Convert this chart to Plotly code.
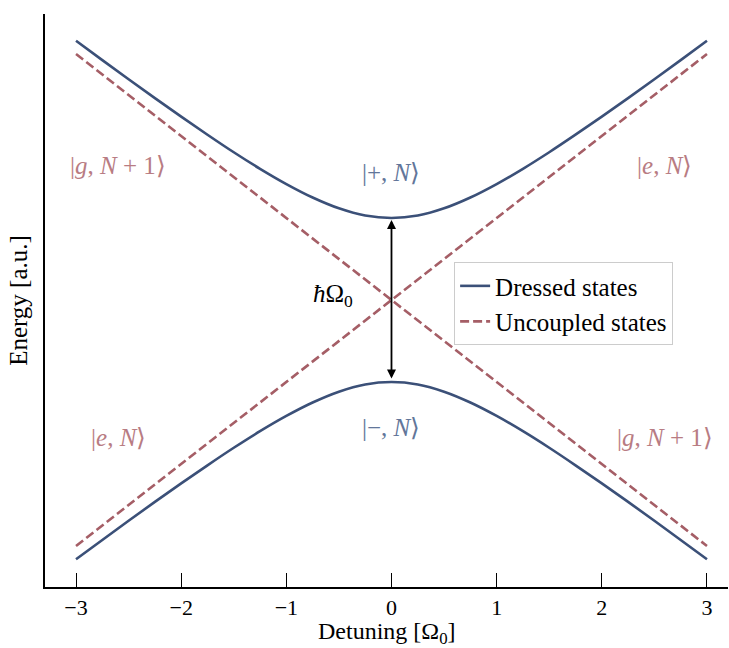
import plotly.graph_objects as go

# Data
detuning = [-3.0, -2.75, -2.5, -2.25, -2.0, -1.75, -1.5, -1.25, -1.0, -0.75, -0.5, -0.25, 0.0,
            0.25, 0.5, 0.75, 1.0, 1.25, 1.5, 1.75, 2.0, 2.25, 2.5, 2.75, 3.0]
dressed_plus = [1.581, 1.463, 1.346, 1.231, 1.118, 1.008, 0.901, 0.800, 0.707, 0.625, 0.559, 0.515, 0.500,
                0.515, 0.559, 0.625, 0.707, 0.800, 0.901, 1.008, 1.118, 1.231, 1.346, 1.463, 1.581]
dressed_minus = [-1.581, -1.463, -1.346, -1.231, -1.118, -1.008, -0.901, -0.800, -0.707, -0.625, -0.559, -0.515, -0.500,
                 -0.515, -0.559, -0.625, -0.707, -0.800, -0.901, -1.008, -1.118, -1.231, -1.346, -1.463, -1.581]
uncoupled_x = [-3.0, 3.0]
uncoupled_e = [-1.5, 1.5]
uncoupled_g = [1.5, -1.5]
x_ticks = [-3, -2, -1, 0, 1, 2, 3]
x_tick_labels = ["−3", "−2", "−1", "0", "1", "2", "3"]

BLUE = "#3b5078"
RED = "#a55e66"
BLUE_T = "#62769a"
RED_T = "#b87c83"
FONT = "Liberation Serif"
FS = 25

fig = go.Figure()
fig.add_trace(go.Scatter(x=detuning, y=dressed_plus, mode="lines", name="Dressed states",
                         line=dict(color=BLUE, width=2.6, shape="spline"), legendgroup="d"))
fig.add_trace(go.Scatter(x=detuning, y=dressed_minus, mode="lines", name="Dressed states",
                         line=dict(color=BLUE, width=2.6, shape="spline"), legendgroup="d", showlegend=False))
fig.add_trace(go.Scatter(x=uncoupled_x, y=uncoupled_e, mode="lines", name="Uncoupled states",
                         line=dict(color=RED, width=2.6, dash="9px,4px"), legendgroup="u"))
fig.add_trace(go.Scatter(x=uncoupled_x, y=uncoupled_g, mode="lines", name="Uncoupled states",
                         line=dict(color=RED, width=2.6, dash="9px,4px"), legendgroup="u", showlegend=False))

labels = [
    (-2.6, 0.82, "|<i>g</i>, <i>N</i> + 1⟩", RED_T),
    (2.6, 0.82, "|<i>e</i>, <i>N</i>⟩", RED_T),
    (0.0, 0.78, "|+, <i>N</i>⟩", BLUE_T),
    (0.0, -0.78, "|−, <i>N</i>⟩", BLUE_T),
    (-2.6, -0.84, "|<i>e</i>, <i>N</i>⟩", RED_T),
    (2.6, -0.84, "|<i>g</i>, <i>N</i> + 1⟩", RED_T),
]
for lx, ly, txt, col in labels:
    fig.add_annotation(x=lx, y=ly, text=txt, showarrow=False,
                       font=dict(family=FONT, size=FS, color=col))

fig.add_annotation(x=-0.56, y=0.03, text="<i>ħ</i>Ω<sub>0</sub>", showarrow=False,
                   font=dict(family=FONT, size=FS, color="black"))
fig.add_annotation(x=0, y=0.5, ax=0, ay=-0.5, xref="x", yref="y", axref="x", ayref="y",
                   text="", showarrow=True, arrowhead=2, startarrowhead=2, arrowside="end+start",
                   arrowwidth=1.8, arrowsize=1, startarrowsize=1, arrowcolor="black",
                   standoff=2, startstandoff=2)

# x-axis title placed below the tick labels
fig.add_annotation(x=0.5, y=-0.0805, xref="paper", yref="paper", text="Detuning [Ω<sub>0</sub>]",
                   showarrow=False, xanchor="center", yanchor="middle",
                   font=dict(family=FONT, size=24, color="black"))

fig.update_layout(
    width=729, height=648,
    margin=dict(l=45, r=1, t=14, b=61),
    plot_bgcolor="white", paper_bgcolor="white",
    font=dict(family=FONT, size=FS, color="black"),
    showlegend=True,
    legend=dict(x=0.599, y=0.567, xanchor="left", yanchor="top",
                bordercolor="#cccccc", borderwidth=1, bgcolor="rgba(255,255,255,0.8)",
                font=dict(family=FONT, size=FS), tracegroupgap=0),
    xaxis=dict(range=[-3.295, 3.2], tickvals=x_ticks, ticktext=x_tick_labels,
               showgrid=False, zeroline=False, showline=True, linecolor="black", linewidth=1.6,
               ticks="inside", ticklen=14, tickwidth=1.3, tickcolor="black",
               tickfont=dict(family=FONT, size=22)),
    yaxis=dict(range=[-1.75, 1.744], showticklabels=False, ticks="",
               showgrid=False, zeroline=False, showline=True, linecolor="black", linewidth=1.6,
               title=dict(text="Energy [a.u.]", font=dict(family=FONT, size=FS), standoff=8)),
)

fig.write_html("out.html")
